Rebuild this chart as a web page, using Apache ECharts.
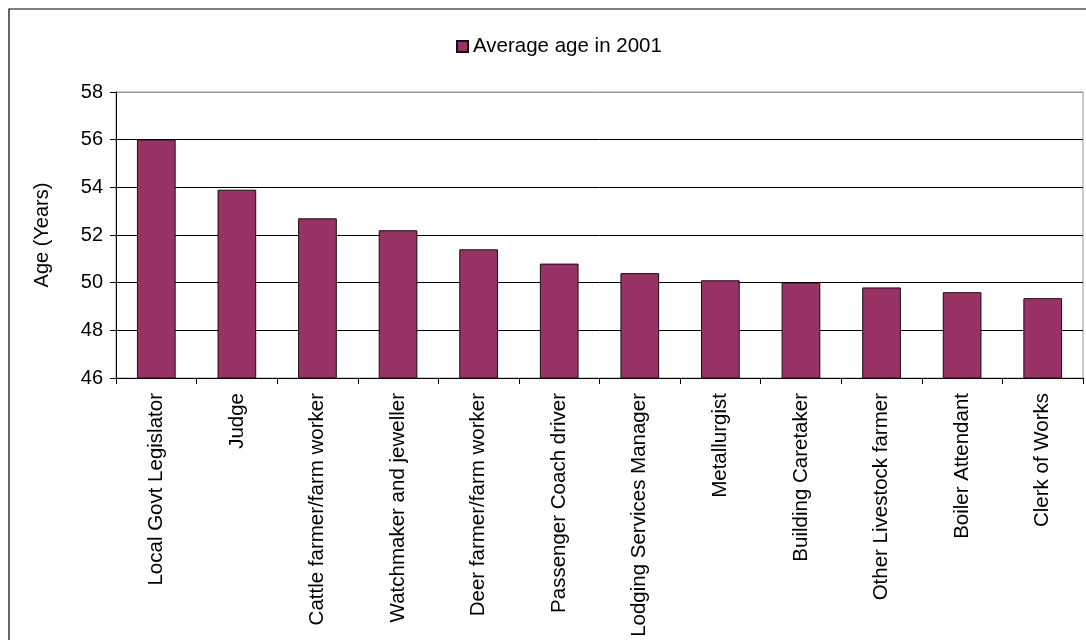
<!DOCTYPE html>
<html>
<head>
<meta charset="utf-8">
<script src="https://cdn.jsdelivr.net/npm/echarts@6/dist/echarts.min.js"></script>
<style>
html,body{margin:0;padding:0;background:#fff;}
#chart{width:1086px;height:640px;}
</style>
</head>
<body>
<div id="chart"></div>
<script>
const categories = [
  "Local Govt Legislator", "Judge", "Cattle farmer/farm worker", "Watchmaker and jeweller",
  "Deer farmer/farm worker", "Passenger Coach driver", "Lodging Services Manager",
  "Metallurgist", "Building Caretaker", "Other Livestock farmer", "Boiler Attendant", "Clerk of Works"
];
const averageAge = [56.0, 53.9, 52.7, 52.2, 51.4, 50.8, 50.4, 50.1, 50.0, 49.8, 49.6, 49.35];
const seriesName = "Average age in 2001";
const yAxisName = "Age (Years)";

const FONT = "'Liberation Sans', Arial, sans-serif";
const chart = echarts.init(document.getElementById('chart'), null, {renderer: 'canvas'});
chart.setOption({
  backgroundColor: '#fff',
  animation: false,
  textStyle: {fontFamily: FONT, color: '#000'},
  graphic: [{
    type: 'rect', z: -1, silent: true,
    shape: {x: 9, y: 9, width: 1200, height: 800},
    style: {fill: 'none', stroke: '#000', lineWidth: 1.2}
  }],
  legend: {
    left: 451, top: 31,
    itemWidth: 11, itemHeight: 11, itemGap: 8,
    icon: 'rect',
    textStyle: {fontFamily: FONT, fontSize: 20.5, color: '#000'},
    data: [seriesName]
  },
  grid: {
    left: 116, top: 92, right: 3, bottom: 262,
    show: true, borderColor: '#999', borderWidth: 1, backgroundColor: 'transparent'
  },
  xAxis: {
    type: 'category',
    data: categories,
    boundaryGap: true,
    axisLine: {lineStyle: {color: '#000', width: 1}},
    axisTick: {show: true, length: 6, lineStyle: {color: '#000'}},
    axisLabel: {rotate: 90, fontFamily: FONT, fontSize: 20.5, color: '#000', margin: 15, interval: 0}
  },
  yAxis: {
    type: 'value',
    min: 46, max: 58, interval: 2,
    name: yAxisName,
    nameLocation: 'middle',
    nameGap: 64,
    nameRotate: 90,
    nameTextStyle: {fontFamily: FONT, fontSize: 20, color: '#000'},
    axisLine: {show: true, lineStyle: {color: '#000', width: 1}},
    axisTick: {show: true, length: 6, lineStyle: {color: '#000'}},
    axisLabel: {fontFamily: FONT, fontSize: 20, color: '#000', margin: 13},
    splitLine: {show: true, lineStyle: {color: ['#000','#000','#000','#000','#000','#000','#999'], width: 1}}
  },
  series: [{
    name: seriesName,
    type: 'bar',
    data: averageAge,
    barWidth: '48%',
    itemStyle: {color: '#993366', borderColor: '#1a0a12', borderWidth: 1}
  }]
});
</script>
</body>
</html>
